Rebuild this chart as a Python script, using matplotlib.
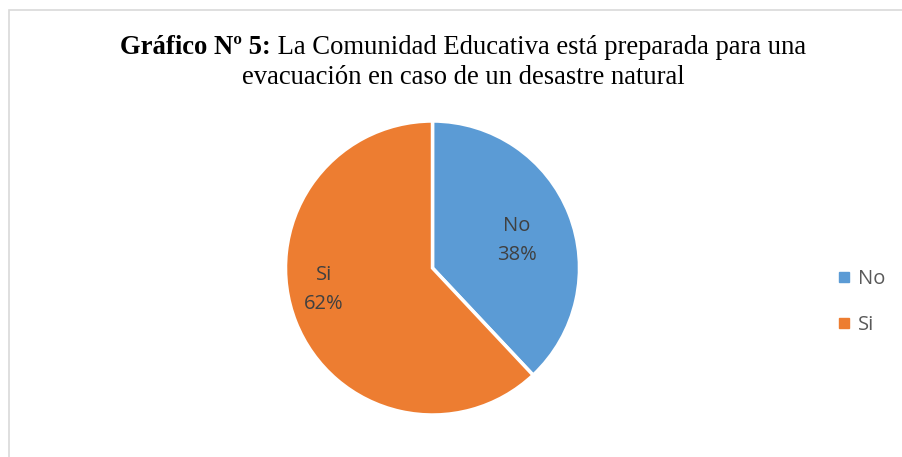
import matplotlib
matplotlib.use("Agg")
import matplotlib.pyplot as plt
from matplotlib.patches import Rectangle
from matplotlib.lines import Line2D

# data
categories = ["No", "Si"]
values = [38, 62]
colors = ["#5B9BD5", "#ED7D31"]
title_bold = "Gráfico Nº 5:"
title_rest = " La Comunidad Educativa está preparada para una"
title_line2 = "evacuación en caso de un desastre natural"

W, H = 903, 457
fig = plt.figure(figsize=(W / 100, H / 100), dpi=100)

# light grey chart border (runs off right and bottom edges)
fig.patches.append(Rectangle((9.5 / W, -0.1), 1.0, 1 - 9.5 / H + 0.1, transform=fig.transFigure,
                             fill=False, edgecolor="#D9D9D9", linewidth=1.2))

# pie
cx, cy, r = 432.5, 268, 147
ax = fig.add_axes([(cx - r) / W, (H - cy - r) / H, 2 * r / W, 2 * r / H])
wedges, _ = ax.pie(values, colors=colors, startangle=90, counterclock=False,
                   wedgeprops=dict(edgecolor="white", linewidth=2.5))
ax.set_xlim(-1, 1)
ax.set_ylim(-1, 1)
ax.axis("off")

label_pos = [(0.575, 0.19), (-0.74, -0.145)]
total = sum(values)
for name, v, (x, y) in zip(categories, values, label_pos):
    ax.text(x, y, f"{name}\n{v / total * 100:.0f}%", ha="center", va="center",
            fontsize=14.5, color="#404040", family="Open Sans", linespacing=1.6)

# title with bold prefix
fig.canvas.draw()
ren = fig.canvas.get_renderer()
tfont = dict(family="Liberation Serif", fontsize=19.2, color="black")
t1 = fig.text(0, 1 - 47 / H, title_bold, fontweight="bold", va="center", **tfont)
t2 = fig.text(0, 1 - 47 / H, title_rest, va="center", **tfont)
w1 = t1.get_window_extent(ren).width
w2 = t2.get_window_extent(ren).width
x0 = 463 - (w1 + w2) / 2
t1.set_x(x0 / W)
t2.set_x((x0 + w1) / W)
fig.text(463 / W, 1 - 78 / H, title_line2, ha="center", va="center", **tfont)

# legend
handles = [Line2D([], [], marker="s", linestyle="", markersize=7, color=c) for c in colors]
fig.legend(handles, categories, loc="center left", bbox_to_anchor=(836 / W, 1 - 302 / H),
           frameon=False, labelcolor="#595959", handlelength=0.8, handletextpad=0.3,
           borderpad=0, borderaxespad=0, labelspacing=1.3,
           prop=dict(family="Open Sans", size=14.5))

fig.savefig("out.png", dpi=100)
